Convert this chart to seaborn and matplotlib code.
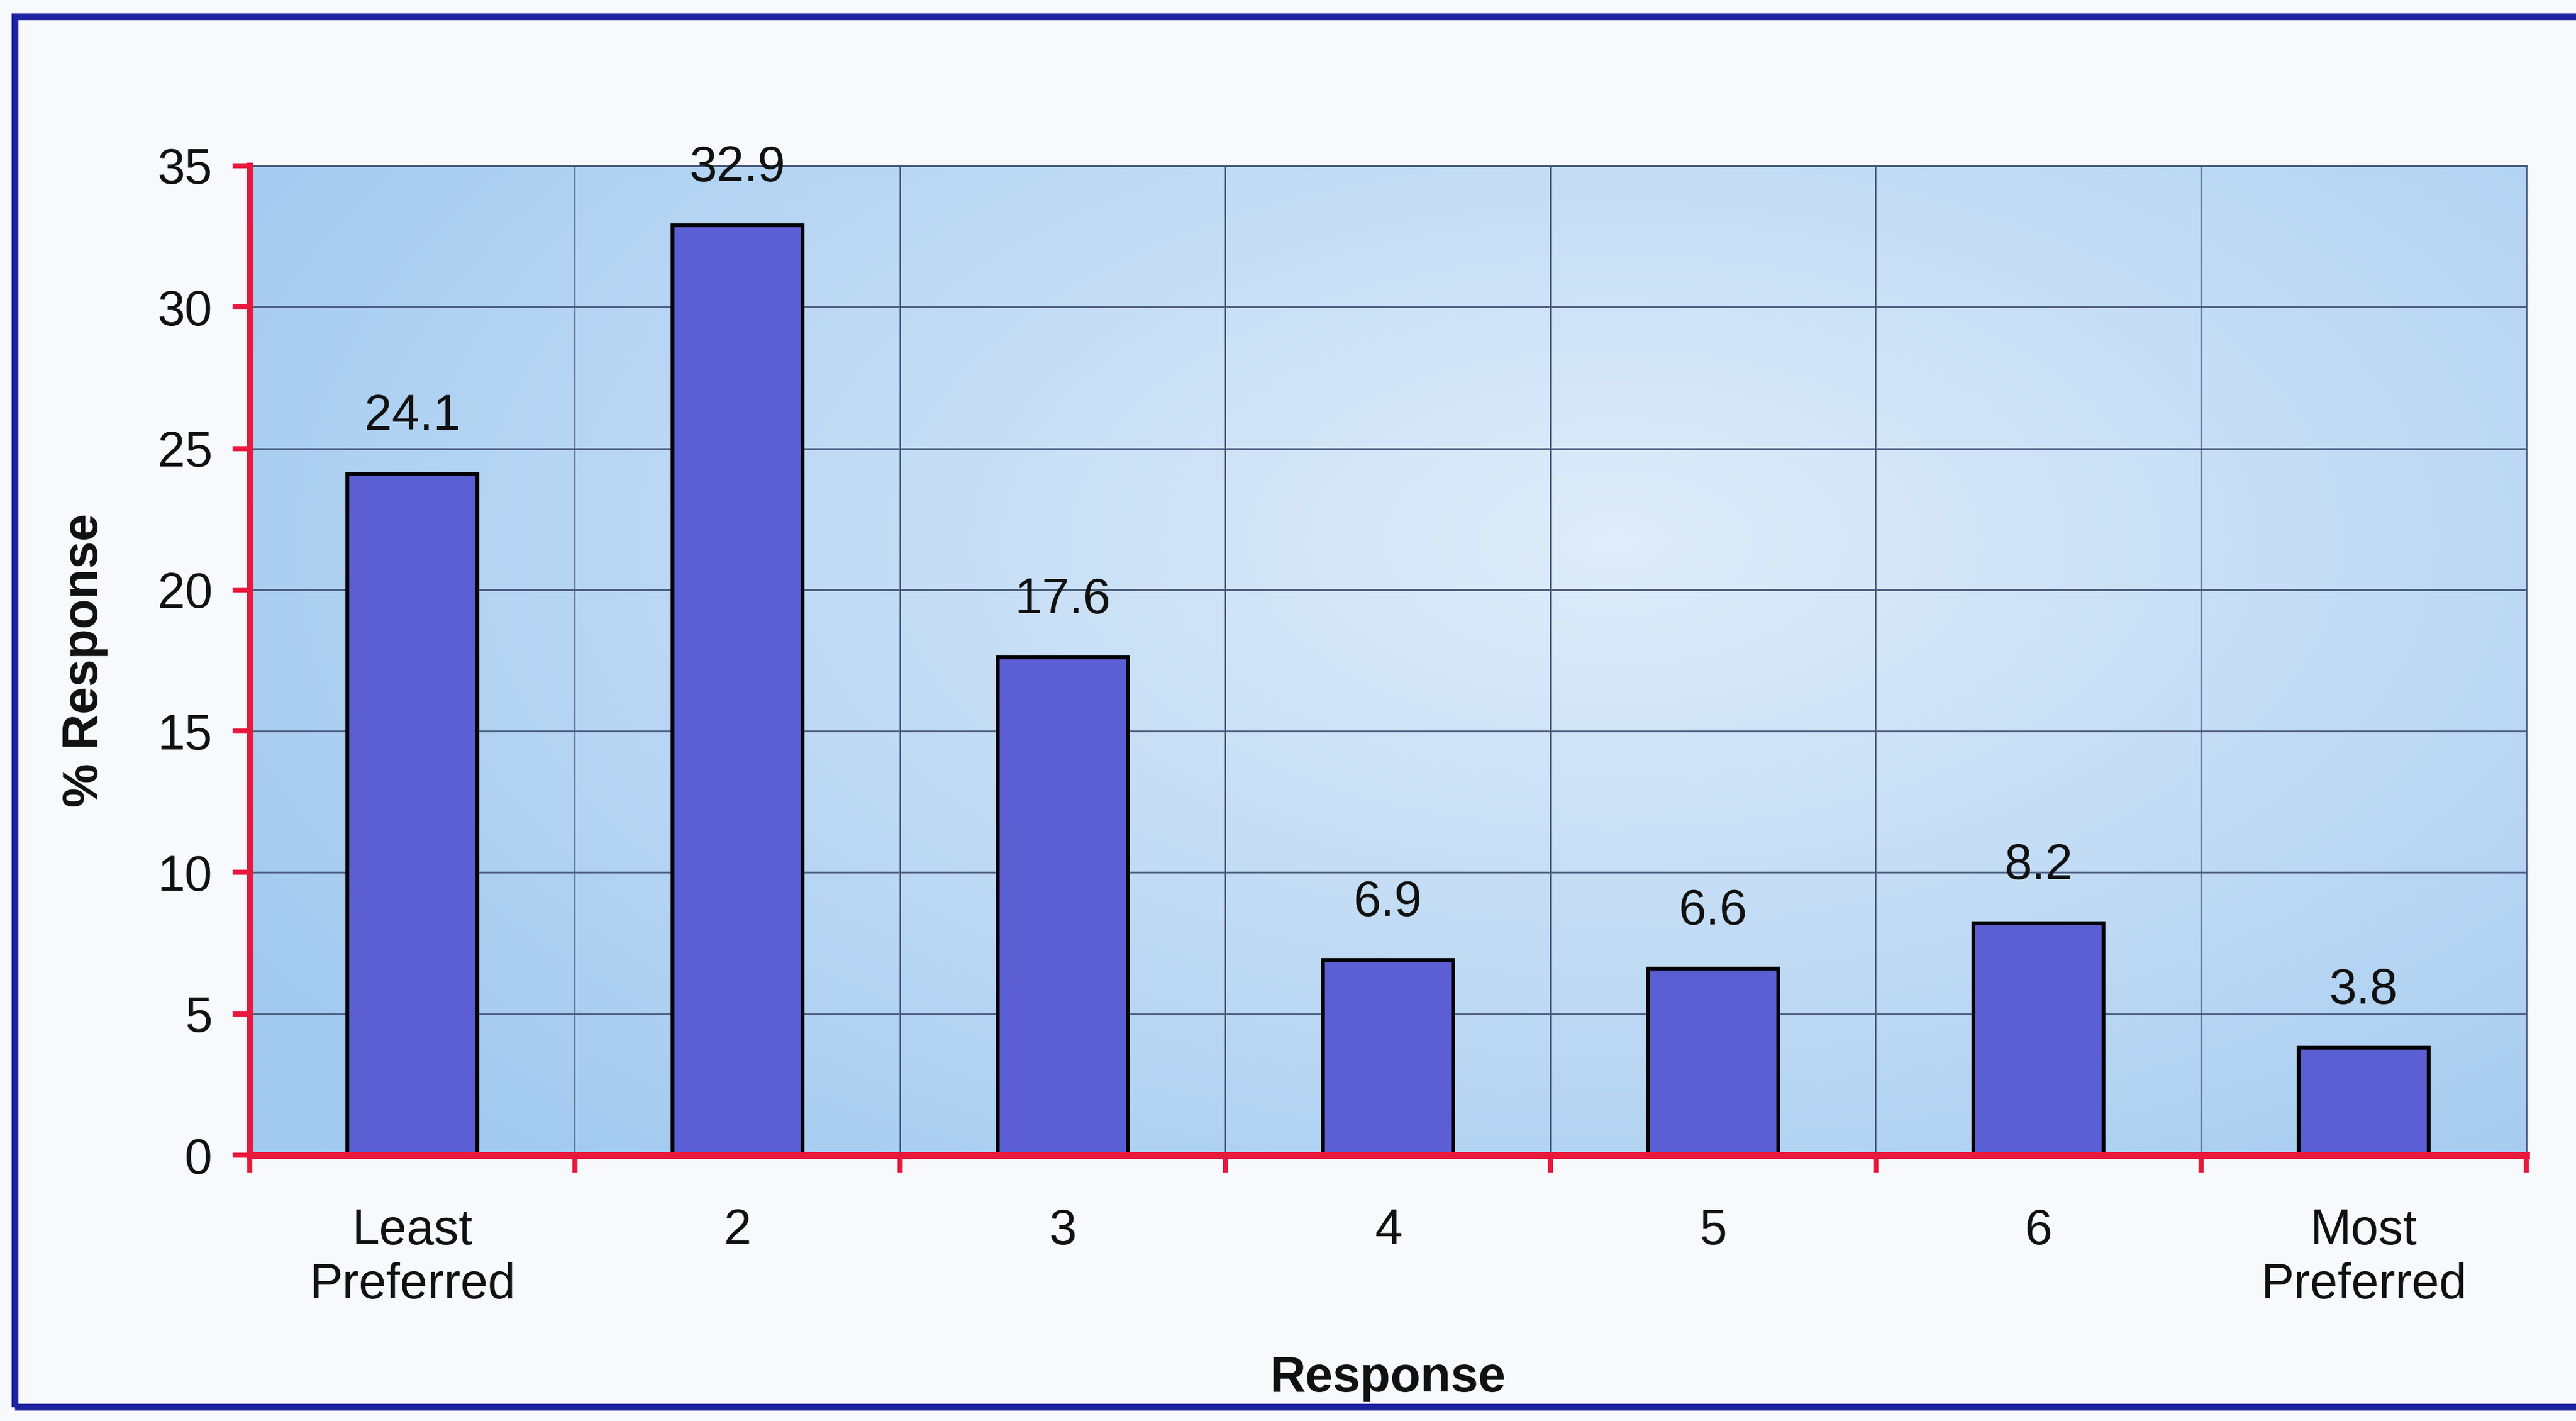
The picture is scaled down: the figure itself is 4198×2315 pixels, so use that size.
import numpy as np
import pandas as pd
import matplotlib
matplotlib.use("Agg")
import matplotlib.pyplot as plt
from matplotlib.patches import Rectangle
import seaborn as sns

# Survey data
categories = ["Least\nPreferred", "2", "3", "4", "5", "6", "Most\nPreferred"]
percent_response = [24.1, 32.9, 17.6, 6.9, 6.6, 8.2, 3.8]
y_ticks = [0, 5, 10, 15, 20, 25, 30, 35]

df = pd.DataFrame({"Response": categories, "Percent": percent_response})

sns.set_theme(style="white")
plt.rcParams["font.family"] = ["Liberation Sans", "DejaVu Sans"]

FIG_BG = "#f7f9fc"
AXIS_RED = "#e8193c"
GRID = "#4a5a7e"
BAR = "#5b5fd3"
TEXT = "#111111"
FS = 58

fig = plt.figure(figsize=(41.98, 23.15), dpi=100, facecolor=FIG_BG)
ax = fig.add_axes([0.097, 0.187, 0.8837, 0.6964])

# soft radial gradient behind the plot area
nx, ny = 400, 200
gx, gy = np.meshgrid(np.linspace(0, 1, nx), np.linspace(0, 1, ny))
r = np.sqrt(((gx - 0.6) / 0.7) ** 2 + ((gy - 0.62) / 0.85) ** 2)
r = np.clip(r, 0, 1)
edge = np.array([162, 202, 240]) / 255
centre = np.array([224, 237, 250]) / 255
img = centre[None, None, :] * (1 - r[..., None]) + edge[None, None, :] * r[..., None]
ax.imshow(img, extent=[0, 1, 0, 1], transform=ax.transAxes, origin="lower",
          aspect="auto", zorder=0, interpolation="bilinear")

sns.barplot(data=df, x="Response", y="Percent", color=BAR, width=0.4,
            edgecolor="black", linewidth=4.5, saturation=1, ax=ax, zorder=3)

ax.set_xlim(-0.5, len(categories) - 0.5)
ax.set_ylim(0, 35)
ax.set_yticks(y_ticks)
ax.set_yticklabels([str(t) for t in y_ticks])

# grid: horizontal at every 5, vertical at category boundaries
ax.set_xticks(np.arange(-0.5, len(categories), 1.0), minor=True)
ax.grid(False)
for t in y_ticks[1:]:
    ax.axhline(t, color=GRID, lw=2.0, zorder=1)
for b in np.arange(0.5, len(categories) - 0.5, 1.0):
    ax.axvline(b, color=GRID, lw=1.4, zorder=1)

# axis styling
for s in ["top", "right"]:
    ax.spines[s].set_color(GRID)
    ax.spines[s].set_linewidth(2.0)
for s in ["left", "bottom"]:
    ax.spines[s].set_color(AXIS_RED)
    ax.spines[s].set_linewidth(8)
    ax.spines[s].set_zorder(5)

ax.tick_params(axis="y", which="major", direction="out", length=20, width=6,
               color=AXIS_RED, pad=24, labelsize=FS, labelcolor=TEXT, left=True)
ax.tick_params(axis="x", which="major", length=0, pad=62, labelsize=FS,
               labelcolor=TEXT)
ax.tick_params(axis="x", which="minor", direction="out", length=20, width=6,
               color=AXIS_RED, bottom=True)
for lab in ax.get_xticklabels():
    lab.set_linespacing(1.2)
    lab.set_va("top")

ax.set_xlabel("Response", fontsize=FS, fontweight="bold", color=TEXT, labelpad=55)
ax.set_ylabel("% Response", fontsize=FS, fontweight="bold", color=TEXT, labelpad=58)

# value labels above each bar
for i, v in enumerate(percent_response):
    ax.annotate(f"{v:.1f}", xy=(i, v), xytext=(0, 67), textcoords="offset points",
                ha="center", va="center", fontsize=FS, color=TEXT, zorder=6)

# outer frame
fig.patches.append(Rectangle((24 / 4198, 1 - 2292 / 2315), 1.2, (2292 - 27) / 2315,
                             transform=fig.transFigure, fill=False,
                             edgecolor="#1e22a0", linewidth=8, zorder=10))

fig.savefig("out.png", dpi=100, facecolor=FIG_BG)
